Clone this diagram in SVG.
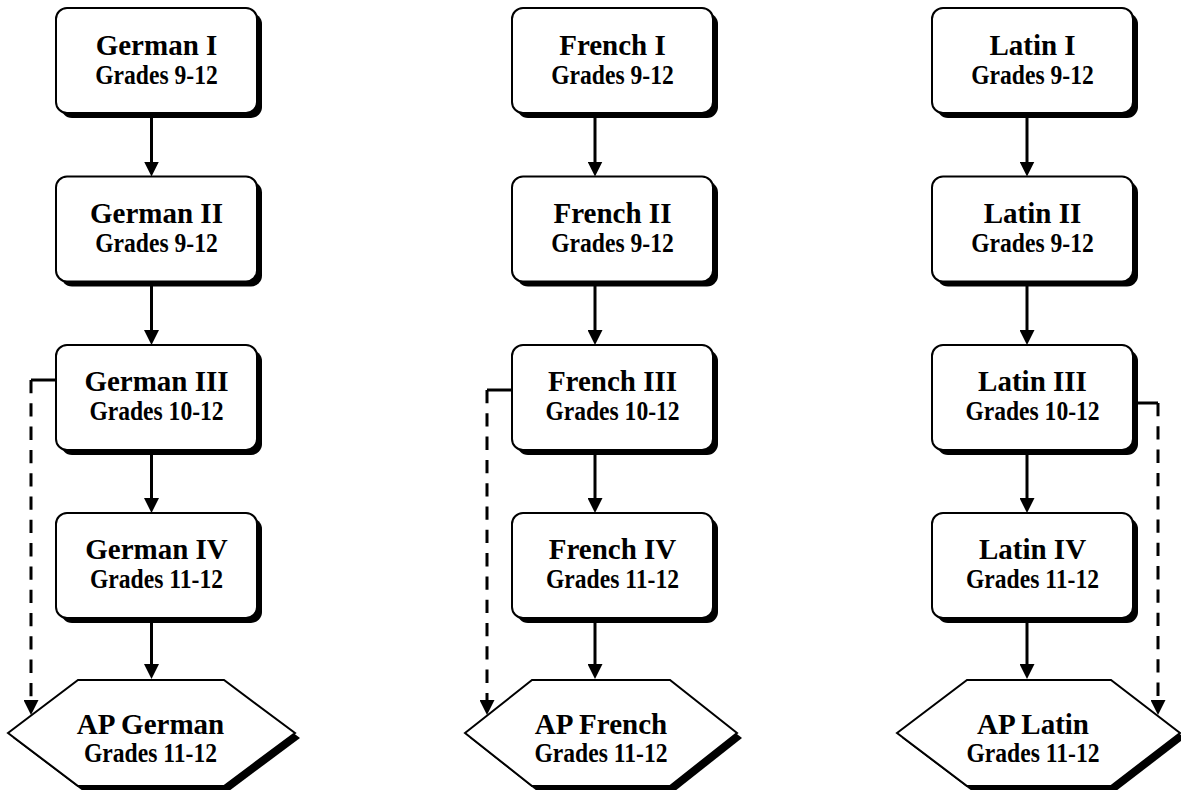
<svg xmlns="http://www.w3.org/2000/svg" width="1181" height="790" viewBox="0 0 1181 790">
<style>
.box{fill:#fff;stroke:#000;stroke-width:2}
.shadow{fill:#000;stroke:none}
.t{font-family:"Liberation Serif","Times New Roman",serif;font-weight:bold;font-size:29px;text-anchor:middle;fill:#000}
.s{font-family:"Liberation Serif","Times New Roman",serif;font-weight:bold;font-size:26.5px;text-anchor:middle;fill:#000}
.arr{fill:none;stroke:#000;stroke-width:3}
.dash{fill:none;stroke:#000;stroke-width:3;stroke-dasharray:13.3 10}
</style>
<defs>
<marker id="ah" markerUnits="userSpaceOnUse" viewBox="0 0 15 15" markerWidth="15" markerHeight="15" refX="3" refY="7.5" orient="auto">
<path d="M0,0 L15,7.5 L0,15 Z" fill="#000"/>
</marker>
</defs>
<rect width="1181" height="790" fill="#fff"/>

<g id="connectors">
<path class="arr" d="M151.5,113 V164.5" marker-end="url(#ah)"/>
<path class="arr" d="M151.5,281.5 V333" marker-end="url(#ah)"/>
<path class="arr" d="M151.5,450 V501" marker-end="url(#ah)"/>
<path class="arr" d="M151.5,618 V667" marker-end="url(#ah)"/>
<path class="arr" d="M56,380 H31"/>
<path class="dash" d="M31,380 V703" marker-end="url(#ah)"/>

<path class="arr" d="M595,113 V164.5" marker-end="url(#ah)"/>
<path class="arr" d="M595,281.5 V333" marker-end="url(#ah)"/>
<path class="arr" d="M595,450 V501" marker-end="url(#ah)"/>
<path class="arr" d="M595,618 V667" marker-end="url(#ah)"/>
<path class="arr" d="M512,390 H487"/>
<path class="dash" d="M487,390 V703" marker-end="url(#ah)"/>

<path class="arr" d="M1027,113 V164.5" marker-end="url(#ah)"/>
<path class="arr" d="M1027,281.5 V333" marker-end="url(#ah)"/>
<path class="arr" d="M1027,450 V501" marker-end="url(#ah)"/>
<path class="arr" d="M1027,618 V667" marker-end="url(#ah)"/>
<path class="arr" d="M1133,403 H1158"/>
<path class="dash" d="M1158,403 V703" marker-end="url(#ah)"/>
</g>

<!-- German column -->
<g id="german1">
<rect class="shadow" x="61" y="13" width="201" height="105" rx="11"/>
<rect class="box" x="56" y="8" width="201" height="105" rx="11"/>
<text class="t" x="156.5" y="55">German I</text>
<text class="s" transform="translate(156.5,84) scale(0.89,1)">Grades 9-12</text>
</g>
<g id="german2">
<rect class="shadow" x="61" y="181.5" width="201" height="105" rx="11"/>
<rect class="box" x="56" y="176.5" width="201" height="105" rx="11"/>
<text class="t" x="156.5" y="222.5">German II</text>
<text class="s" transform="translate(156.5,251.5) scale(0.89,1)">Grades 9-12</text>
</g>
<g id="german3">
<rect class="shadow" x="61" y="350" width="201" height="105" rx="11"/>
<rect class="box" x="56" y="345" width="201" height="105" rx="11"/>
<text class="t" x="156.5" y="391">German III</text>
<text class="s" transform="translate(156.5,420) scale(0.89,1)">Grades 10-12</text>
</g>
<g id="german4">
<rect class="shadow" x="61" y="518" width="201" height="105" rx="11"/>
<rect class="box" x="56" y="513" width="201" height="105" rx="11"/>
<text class="t" x="156.5" y="559">German IV</text>
<text class="s" transform="translate(156.5,588) scale(0.89,1)">Grades 11-12</text>
</g>
<g id="apgerman">
<polygon class="shadow" points="13,738 83,685 229,685 300,738 229,791 83,791"/>
<polygon class="box" points="8,733 78,680 224,680 295,733 224,786 78,786"/>
<text class="t" x="150.5" y="734">AP German</text>
<text class="s" transform="translate(150.5,762) scale(0.89,1)">Grades 11-12</text>
</g>

<!-- French column -->
<g id="french1">
<rect class="shadow" x="517" y="13" width="201" height="105" rx="11"/>
<rect class="box" x="512" y="8" width="201" height="105" rx="11"/>
<text class="t" x="612.5" y="55">French I</text>
<text class="s" transform="translate(612.5,84) scale(0.89,1)">Grades 9-12</text>
</g>
<g id="french2">
<rect class="shadow" x="517" y="181.5" width="201" height="105" rx="11"/>
<rect class="box" x="512" y="176.5" width="201" height="105" rx="11"/>
<text class="t" x="612.5" y="222.5">French II</text>
<text class="s" transform="translate(612.5,251.5) scale(0.89,1)">Grades 9-12</text>
</g>
<g id="french3">
<rect class="shadow" x="517" y="350" width="201" height="105" rx="11"/>
<rect class="box" x="512" y="345" width="201" height="105" rx="11"/>
<text class="t" x="612.5" y="391">French III</text>
<text class="s" transform="translate(612.5,420) scale(0.89,1)">Grades 10-12</text>
</g>
<g id="french4">
<rect class="shadow" x="517" y="518" width="201" height="105" rx="11"/>
<rect class="box" x="512" y="513" width="201" height="105" rx="11"/>
<text class="t" x="612.5" y="559">French IV</text>
<text class="s" transform="translate(612.5,588) scale(0.89,1)">Grades 11-12</text>
</g>
<g id="apfrench">
<polygon class="shadow" points="470,738 537,685 675,685 742,738 675,791 537,791"/>
<polygon class="box" points="465,733 532,680 670,680 737,733 670,786 532,786"/>
<text class="t" x="601" y="734">AP French</text>
<text class="s" transform="translate(601,762) scale(0.89,1)">Grades 11-12</text>
</g>

<!-- Latin column -->
<g id="latin1">
<rect class="shadow" x="937" y="13" width="201" height="105" rx="11"/>
<rect class="box" x="932" y="8" width="201" height="105" rx="11"/>
<text class="t" x="1032.5" y="55">Latin I</text>
<text class="s" transform="translate(1032.5,84) scale(0.89,1)">Grades 9-12</text>
</g>
<g id="latin2">
<rect class="shadow" x="937" y="181.5" width="201" height="105" rx="11"/>
<rect class="box" x="932" y="176.5" width="201" height="105" rx="11"/>
<text class="t" x="1032.5" y="222.5">Latin II</text>
<text class="s" transform="translate(1032.5,251.5) scale(0.89,1)">Grades 9-12</text>
</g>
<g id="latin3">
<rect class="shadow" x="937" y="350" width="201" height="105" rx="11"/>
<rect class="box" x="932" y="345" width="201" height="105" rx="11"/>
<text class="t" x="1032.5" y="391">Latin III</text>
<text class="s" transform="translate(1032.5,420) scale(0.89,1)">Grades 10-12</text>
</g>
<g id="latin4">
<rect class="shadow" x="937" y="518" width="201" height="105" rx="11"/>
<rect class="box" x="932" y="513" width="201" height="105" rx="11"/>
<text class="t" x="1032.5" y="559">Latin IV</text>
<text class="s" transform="translate(1032.5,588) scale(0.89,1)">Grades 11-12</text>
</g>
<g id="aplatin">
<polygon class="shadow" points="902,738 972,685 1116,685 1185,738 1116,791 972,791"/>
<polygon class="box" points="897,733 967,680 1111,680 1180,733 1111,786 967,786"/>
<text class="t" x="1033" y="734">AP Latin</text>
<text class="s" transform="translate(1033,762) scale(0.89,1)">Grades 11-12</text>
</g>
</svg>
